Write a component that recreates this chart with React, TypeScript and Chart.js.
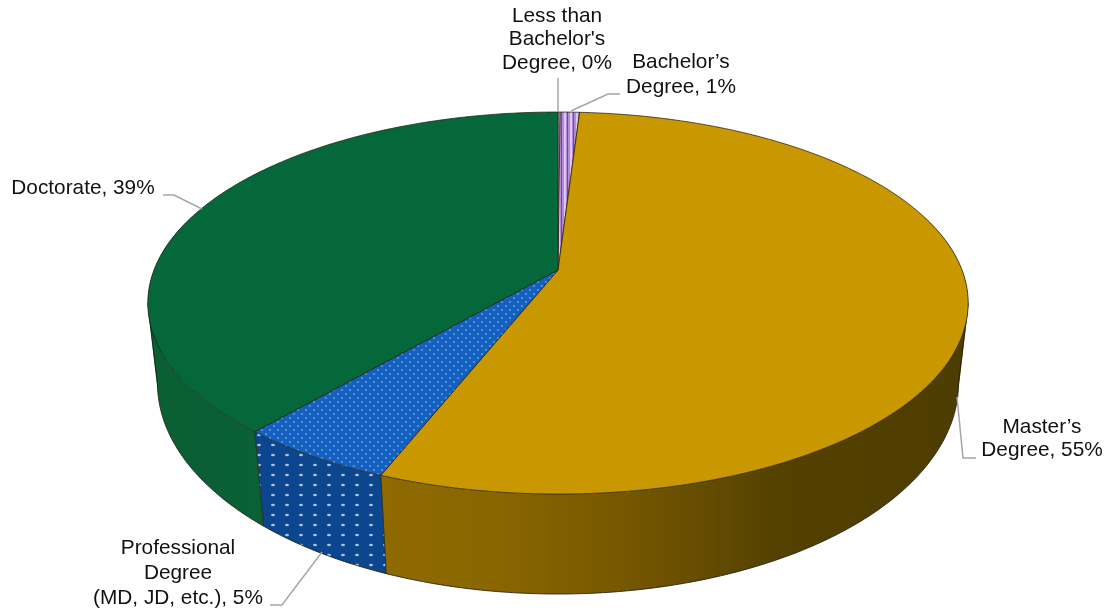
import React, { useEffect, useRef } from "react";
import { Chart, registerables } from "chart.js";

Chart.register(...registerables);

const categories = ["Less than Bachelor's Degree", "Bachelor’s Degree", "Master’s Degree", "Professional Degree (MD, JD, etc.)", "Doctorate"];
const shares = [0.1, 0.9, 55, 5.3, 38.7];
const labelLines = [
  ["Less than", "Bachelor's", "Degree, 0%"],
  ["Bachelor’s", "Degree, 1%"],
  ["Master’s", "Degree, 55%"],
  ["Professional", "Degree", "(MD, JD, etc.), 5%"],
  ["Doctorate, 39%"],
];

// Layout only: label centres and leader polylines, in canvas pixels.
const labelCentres = [[557, 16, 23.5], [681, 62, 25], [1042, 427, 23.5], [178, 548, 25], [83, 188, 0]];
const leaders = [
  [[558, 78], [558, 112]],
  [[620, 94], [608, 94], [571, 111]],
  [[976, 458], [963, 458], [957, 397]],
  [[270, 605], [282, 605], [322, 552]],
  [[163, 195], [174, 195], [202, 209]],
];
const topFace = { cx: 558, cy: 270, rx: 404, ry: 185.3, k: 0.173 };
const baseFace = { cx: 558, cy: 348.5, rx: 395, ry: 205, k: 0.165 };
const sideStops = [
  [["0", "#c9b6de"], ["1", "#c9b6de"]],
  [["0", "#8f6ab0"], ["1", "#8f6ab0"]],
  [["0", "#8f6a00"], ["0.2", "#8a6600"], ["0.42", "#765700"], ["0.68", "#544100"], ["1", "#4e3d00"]],
  [["0", "#0b468f"], ["1", "#0b468f"]],
  [["0", "#0a5f33"], ["1", "#0a6136"]],
];

function project(f: typeof topFace, theta: number) {
  const u = Math.sin(theta);
  const v = Math.cos(theta);
  const d = 1 + f.k * v;
  return [f.cx + (f.rx * u) / d, f.cy - (f.ry * v) / d];
}

function tile(w: number, h: number, paint: (c: CanvasRenderingContext2D) => void) {
  const t = document.createElement("canvas");
  t.width = w;
  t.height = h;
  paint(t.getContext("2d") as CanvasRenderingContext2D);
  return t;
}

function dots(w: number, h: number, bg: string, fg: string, pts: number[][], rx: number, ry: number) {
  return tile(w, h, (c) => {
    c.fillStyle = bg;
    c.fillRect(0, 0, w, h);
    c.fillStyle = fg;
    pts.forEach(([x, y]) => {
      c.beginPath();
      c.ellipse(x, y, rx, ry, 0, 0, Math.PI * 2);
      c.fill();
    });
  });
}

const pie3d = {
  id: "pie3d",
  beforeDatasetsDraw(chart: any) {
    const ctx: CanvasRenderingContext2D = chart.ctx;
    const arcs = chart.getDatasetMeta(0).data;
    const colours = chart.data.datasets[0].backgroundColor as string[];
    const step = Math.PI / 360;
    const spans = arcs.map((a: any) => [a.startAngle + Math.PI / 2, a.endAngle + Math.PI / 2]);
    const edge = "rgba(35,32,18,0.85)";

    const purple = tile(6, 4, (c) => {
      c.fillStyle = "#b48ad8";
      c.fillRect(0, 0, 6, 4);
      c.fillStyle = "#dcc8ee";
      c.fillRect(0, 0, 2, 4);
      c.fillStyle = "#6f4a9a";
      c.fillRect(3, 0, 1, 4);
    });
    const blueTop = dots(8, 8, "#1460bf", "#5f98dc", [[2, 2], [6, 6]], 1.2, 1);
    const blueSide = dots(14, 10, "#0b468f", "#a9c0dc", [[7, 5]], 2, 1.3);

    // extruded wall: per slice, one compound path of same-orientation strips
    const fills = sideStops.map((stops, i) => {
      if (i === 3) return ctx.createPattern(blueSide, "repeat");
      const g = ctx.createLinearGradient(i === 4 ? 147 : 381, 0, i === 4 ? 267 : 964, 0);
      stops.forEach(([p, c]) => g.addColorStop(Number(p), c));
      return g;
    });
    spans.forEach(([s, e]: number[], i: number) => {
      ctx.beginPath();
      let any = false;
      for (let t = s; t < e; t += step) {
        const b = Math.min(t + step, e);
        if (Math.cos((t + b) / 2) > 0.3) continue;
        const q = [project(topFace, t), project(topFace, b), project(baseFace, b), project(baseFace, t)];
        let area = 0;
        q.forEach((p, j) => {
          const n = q[(j + 1) % 4];
          area += p[0] * n[1] - n[0] * p[1];
        });
        const ordered = area >= 0 ? q : q.slice().reverse();
        ordered.forEach((p, j) => (j ? ctx.lineTo(p[0], p[1]) : ctx.moveTo(p[0], p[1])));
        ctx.closePath();
        any = true;
      }
      if (!any) return;
      ctx.fillStyle = fills[i] as any;
      ctx.fill("nonzero");
    });

    // outline of the wall's foot and the vertical seams
    ctx.strokeStyle = edge;
    ctx.lineWidth = 1;
    ctx.beginPath();
    const tanBase = Math.acos(-baseFace.k);
    const tanTop = Math.acos(-topFace.k);
    const foot0 = project(topFace, tanTop);
    ctx.moveTo(foot0[0], foot0[1]);
    for (let t = tanBase; t <= 2 * Math.PI - tanBase + 1e-6; t += step) {
      const p = project(baseFace, t);
      ctx.lineTo(p[0], p[1]);
    }
    const foot1 = project(topFace, 2 * Math.PI - tanTop);
    ctx.lineTo(foot1[0], foot1[1]);
    ctx.stroke();
    [spans[2][1], spans[3][1]].forEach((t: number) => {
      const a = project(topFace, t);
      const b = project(baseFace, t);
      ctx.beginPath();
      ctx.moveTo(a[0], a[1]);
      ctx.lineTo(b[0], b[1]);
      ctx.stroke();
    });

    // top face
    spans.forEach(([s, e]: number[], i: number) => {
      ctx.beginPath();
      ctx.moveTo(topFace.cx, topFace.cy);
      for (let t = s; t < e; t += step) {
        const p = project(topFace, t);
        ctx.lineTo(p[0], p[1]);
      }
      const last = project(topFace, e);
      ctx.lineTo(last[0], last[1]);
      ctx.closePath();
      if (i === 1) ctx.fillStyle = ctx.createPattern(purple, "repeat") as any;
      else if (i === 3) ctx.fillStyle = ctx.createPattern(blueTop, "repeat") as any;
      else ctx.fillStyle = colours[i];
      ctx.fill();
      ctx.strokeStyle = edge;
      ctx.lineWidth = 0.9;
      ctx.stroke();
    });

    // leaders and labels
    ctx.strokeStyle = "#a6a6a6";
    ctx.lineWidth = 1.5;
    leaders.forEach((pts) => {
      ctx.beginPath();
      pts.forEach(([x, y], j) => (j ? ctx.lineTo(x, y) : ctx.moveTo(x, y)));
      ctx.stroke();
    });
    ctx.fillStyle = "#111111";
    ctx.font = '20.8px "Liberation Sans", Arial, sans-serif';
    ctx.textAlign = "center";
    ctx.textBaseline = "middle";
    labelLines.forEach((lines, i) => {
      const [x, y, gap] = labelCentres[i];
      lines.forEach((line, j) => ctx.fillText(line, x, y + j * gap));
    });
    return false;
  },
};

export default function App() {
  const ref = useRef<HTMLCanvasElement>(null);
  useEffect(() => {
    const chart = new Chart(ref.current as HTMLCanvasElement, {
      type: "pie",
      data: {
        labels: categories,
        datasets: [{ data: shares, backgroundColor: ["#dcd3e6", "#bb92dc", "#c99700", "#1460bf", "#05683a"] }],
      },
      options: {
        responsive: false,
        animation: false,
        devicePixelRatio: 1,
        plugins: { legend: { display: false }, tooltip: { enabled: false } },
      },
      plugins: [pie3d],
    } as any);
    return () => chart.destroy();
  }, []);
  return (
    <div style={{ position: "absolute", left: 0, top: 0, width: 1111, height: 614, background: "#fff" }}>
      <canvas ref={ref} width={1111} height={614} style={{ display: "block" }} />
    </div>
  );
}
